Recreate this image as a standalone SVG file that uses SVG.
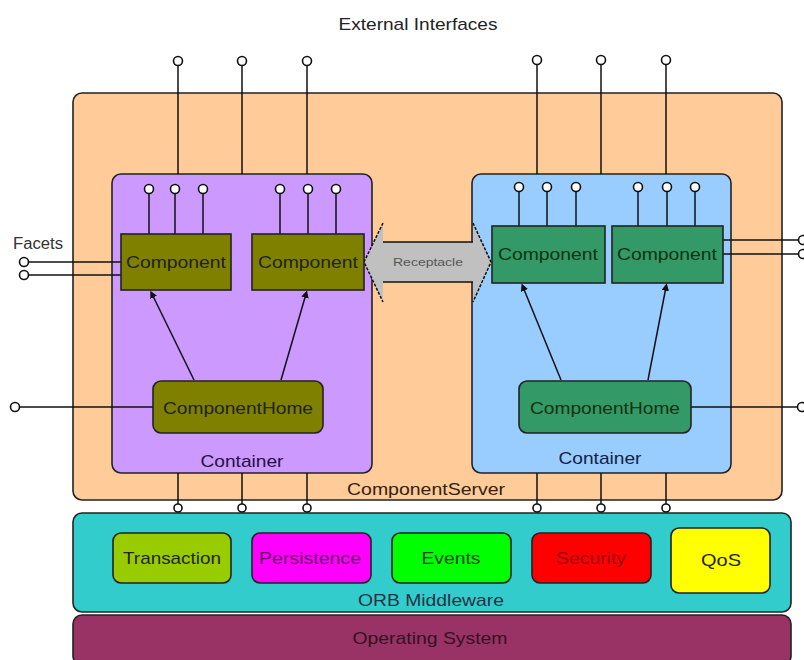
<svg xmlns="http://www.w3.org/2000/svg" width="804" height="660" viewBox="0 0 804 660">
<defs>
<style>
text{font-family:"Liberation Sans",Arial,sans-serif;font-size:17px;text-anchor:middle;dominant-baseline:central}
.box{stroke:#222;stroke-width:1.6}
.ln{stroke:#111;stroke-width:1.5;fill:none}
.lp{fill:#fff;stroke:#111;stroke-width:1.6}
</style>
<marker id="dot" viewBox="0 0 6 6" refX="3" refY="3" markerWidth="5" markerHeight="5" orient="auto">
<path d="M0,0 L6,3 L0,6 z" fill="#111"/>
</marker>
</defs>
<rect width="804" height="660" fill="#fff"/>
<text x="418" y="24" textLength="159" lengthAdjust="spacingAndGlyphs" fill="#222">External Interfaces</text>
<text x="38" y="243" textLength="50" lengthAdjust="spacingAndGlyphs" style="font-size:16px;fill:#333">Facets</text>

<g id="componentServer">
<rect class="box" x="73" y="93" width="709" height="407" rx="9" fill="#FFCC99"/>
<text x="426" y="489" textLength="158" lengthAdjust="spacingAndGlyphs" fill="#332211">ComponentServer</text>
</g>

<g id="orb">
<rect class="box" x="73" y="513" width="718" height="99" rx="9" fill="#33CCCC"/>
<text x="431" y="600" textLength="146" lengthAdjust="spacingAndGlyphs" fill="#223344">ORB Middleware</text>
</g>
<g id="os">
<rect class="box" x="73" y="615" width="718" height="50" rx="9" fill="#993366"/>
<text x="430" y="638" textLength="155" lengthAdjust="spacingAndGlyphs" fill="#331122">Operating System</text>
</g>

<g id="containerLeft">
<rect class="box" x="112" y="174" width="260" height="299" rx="9" fill="#CC99FF"/>
<text x="242" y="461" textLength="83" lengthAdjust="spacingAndGlyphs" fill="#221144">Container</text>
</g>
<g id="containerRight">
<rect class="box" x="472" y="174" width="259" height="299" rx="9" fill="#99CCFF"/>
<text x="600" y="458" textLength="83" lengthAdjust="spacingAndGlyphs" fill="#112244">Container</text>
</g>

<g id="receptacle">
<polygon points="364,262 383,223 383,242 473,242 473,223 491,262 473,302 473,282 383,282 383,302" fill="#C0C0C0"/>
<path class="ln" d="M383,242 H473 M383,282 H473"/>
<path class="ln" d="M383,223 L364,262 L383,302 M473,223 L491,262 L473,302" stroke-dasharray="3,1.5"/>
<text x="428" y="262" textLength="70" lengthAdjust="spacingAndGlyphs" style="font-size:11px;fill:#555">Receptacle</text>
</g>

<g id="connectors">
<!-- external interfaces top -->
<line class="ln" x1="178" y1="66" x2="178" y2="174"/>
<line class="ln" x1="242" y1="66" x2="242" y2="174"/>
<line class="ln" x1="307" y1="66" x2="307" y2="174"/>
<line class="ln" x1="537" y1="65" x2="537" y2="174"/>
<line class="ln" x1="601" y1="65" x2="601" y2="174"/>
<line class="ln" x1="666" y1="65" x2="666" y2="174"/>
<circle class="lp" cx="178" cy="61" r="4.5"/>
<circle class="lp" cx="242" cy="61" r="4.5"/>
<circle class="lp" cx="307" cy="61" r="4.5"/>
<circle class="lp" cx="537" cy="60" r="4.5"/>
<circle class="lp" cx="601" cy="60" r="4.5"/>
<circle class="lp" cx="666" cy="60" r="4.5"/>
<!-- component top lollipops left -->
<line class="ln" x1="149" y1="193" x2="149" y2="234"/>
<line class="ln" x1="175" y1="193" x2="175" y2="234"/>
<line class="ln" x1="203" y1="193" x2="203" y2="234"/>
<line class="ln" x1="280" y1="193" x2="280" y2="234"/>
<line class="ln" x1="308" y1="193" x2="308" y2="234"/>
<line class="ln" x1="336" y1="193" x2="336" y2="234"/>
<circle class="lp" cx="149" cy="189" r="4.5"/>
<circle class="lp" cx="175" cy="189" r="4.5"/>
<circle class="lp" cx="203" cy="189" r="4.5"/>
<circle class="lp" cx="280" cy="189" r="4.5"/>
<circle class="lp" cx="308" cy="189" r="4.5"/>
<circle class="lp" cx="336" cy="189" r="4.5"/>
<!-- component top lollipops right -->
<line class="ln" x1="519" y1="191" x2="519" y2="226"/>
<line class="ln" x1="547" y1="191" x2="547" y2="226"/>
<line class="ln" x1="576" y1="191" x2="576" y2="226"/>
<line class="ln" x1="638" y1="191" x2="638" y2="226"/>
<line class="ln" x1="667" y1="191" x2="667" y2="226"/>
<line class="ln" x1="695" y1="191" x2="695" y2="226"/>
<circle class="lp" cx="519" cy="187" r="4.5"/>
<circle class="lp" cx="547" cy="187" r="4.5"/>
<circle class="lp" cx="576" cy="187" r="4.5"/>
<circle class="lp" cx="638" cy="187" r="4.5"/>
<circle class="lp" cx="667" cy="187" r="4.5"/>
<circle class="lp" cx="695" cy="187" r="4.5"/>
<!-- facets left -->
<line class="ln" x1="28" y1="262" x2="121" y2="262"/>
<line class="ln" x1="28" y1="275" x2="121" y2="275"/>
<circle class="lp" cx="24" cy="262" r="4.5"/>
<circle class="lp" cx="24" cy="275" r="4.5"/>
<!-- facets right -->
<line class="ln" x1="723" y1="240" x2="799" y2="240"/>
<line class="ln" x1="723" y1="254" x2="799" y2="254"/>
<circle class="lp" cx="803" cy="240" r="4.5"/>
<circle class="lp" cx="803" cy="254" r="4.5"/>
<!-- home interfaces -->
<line class="ln" x1="19" y1="407" x2="153" y2="407"/>
<circle class="lp" cx="15" cy="407" r="4.5"/>
<line class="ln" x1="691" y1="407" x2="798" y2="407"/>
<circle class="lp" cx="802" cy="407" r="4.5"/>
<!-- home to components -->
<line class="ln" x1="194" y1="380" x2="152" y2="294" marker-end="url(#dot)"/>
<line class="ln" x1="281" y1="380" x2="306" y2="294" marker-end="url(#dot)"/>
<line class="ln" x1="561" y1="380" x2="523" y2="287" marker-end="url(#dot)"/>
<line class="ln" x1="648" y1="380" x2="666" y2="287" marker-end="url(#dot)"/>
<!-- bottom to ORB -->
<line class="ln" x1="178" y1="473" x2="178" y2="504"/>
<line class="ln" x1="242" y1="473" x2="242" y2="504"/>
<line class="ln" x1="307" y1="473" x2="307" y2="504"/>
<line class="ln" x1="537" y1="473" x2="537" y2="504"/>
<line class="ln" x1="601" y1="473" x2="601" y2="504"/>
<line class="ln" x1="666" y1="473" x2="666" y2="504"/>
<circle class="lp" cx="178" cy="508" r="4"/>
<circle class="lp" cx="242" cy="508" r="4"/>
<circle class="lp" cx="307" cy="508" r="4"/>
<circle class="lp" cx="537" cy="508" r="4"/>
<circle class="lp" cx="601" cy="508" r="4"/>
<circle class="lp" cx="666" cy="508" r="4"/>
</g>

<g id="compL1">
<rect class="box" x="121" y="234" width="110" height="56" fill="#808000"/>
<text x="176" y="262" textLength="100" lengthAdjust="spacingAndGlyphs" fill="#222">Component</text>
</g>
<g id="compL2">
<rect class="box" x="252" y="234" width="112" height="56" fill="#808000"/>
<text x="308" y="262" textLength="100" lengthAdjust="spacingAndGlyphs" fill="#222">Component</text>
</g>
<g id="compR1">
<rect class="box" x="492" y="226" width="113" height="57" fill="#339966"/>
<text x="548" y="254" textLength="100" lengthAdjust="spacingAndGlyphs" fill="#113311">Component</text>
</g>
<g id="compR2">
<rect class="box" x="612" y="226" width="111" height="57" fill="#339966"/>
<text x="667" y="254" textLength="100" lengthAdjust="spacingAndGlyphs" fill="#113311">Component</text>
</g>
<g id="homeL">
<rect class="box" x="153" y="381" width="170" height="52" rx="8" fill="#808000"/>
<text x="238" y="408" textLength="150" lengthAdjust="spacingAndGlyphs" fill="#222">ComponentHome</text>
</g>
<g id="homeR">
<rect class="box" x="519" y="381" width="172" height="52" rx="8" fill="#339966"/>
<text x="605" y="408" textLength="150" lengthAdjust="spacingAndGlyphs" fill="#113311">ComponentHome</text>
</g>

<g id="transaction">
<rect class="box" x="113" y="533" width="118" height="50" rx="8" fill="#99CC00"/>
<text x="172" y="558" textLength="98" lengthAdjust="spacingAndGlyphs" fill="#222">Transaction</text>
</g>
<g id="persistence">
<rect class="box" x="252" y="533" width="119" height="50" rx="8" fill="#FF00FF"/>
<text x="310" y="558" textLength="102" lengthAdjust="spacingAndGlyphs" fill="#660066">Persistence</text>
</g>
<g id="events">
<rect class="box" x="392" y="533" width="119" height="50" rx="8" fill="#00FF00"/>
<text x="451" y="558" textLength="59" lengthAdjust="spacingAndGlyphs" fill="#114411">Events</text>
</g>
<g id="security">
<rect class="box" x="532" y="533" width="119" height="50" rx="8" fill="#FF0000"/>
<text x="591" y="558" textLength="70" lengthAdjust="spacingAndGlyphs" fill="#990000">Security</text>
</g>
<g id="qos">
<rect class="box" x="671" y="528" width="99" height="65" rx="8" fill="#FFFF00"/>
<text x="721" y="560" textLength="40" lengthAdjust="spacingAndGlyphs" fill="#222">QoS</text>
</g>
</svg>
